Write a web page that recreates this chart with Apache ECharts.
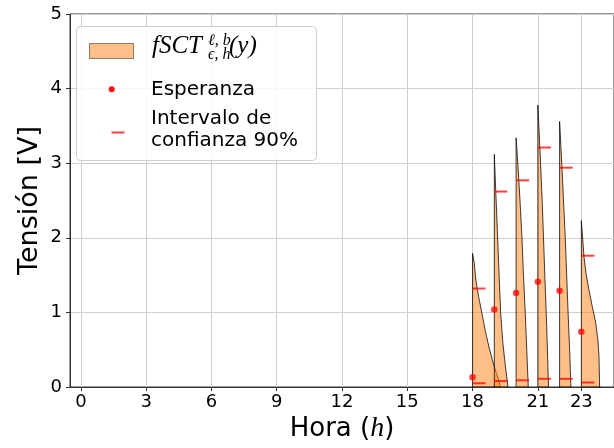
<!DOCTYPE html>
<html>
<head>
<meta charset="utf-8">
<script src="https://cdn.jsdelivr.net/npm/echarts@6/dist/echarts.min.js"></script>
<style>
html,body{margin:0;padding:0;background:#fff;}
#c{width:614px;height:448px;}
</style>
</head>
<body>
<div id="c"></div>
<script>
// ---- data ----
const hours = [18, 19, 20, 21, 22, 23];
const means = [0.13, 1.04, 1.26, 1.41, 1.29, 0.74];
const ciLow = [0.05, 0.08, 0.09, 0.11, 0.11, 0.06];
const ciHigh = [1.32, 2.62, 2.77, 3.21, 2.94, 1.76];
const xTickLabels = [0, 3, 6, 9, 12, 15, 18, 21, 23];
const yTickLabels = [0, 1, 2, 3, 4, 5];
// half-violin profiles: [tension, half width in hours]
const profile18 = [[1.79,0],[1.66,0.08],[1.43,0.15],[1.21,0.28],[0.99,0.43],[0.76,0.58],[0.54,0.75],[0.32,0.95],[0.18,1.10],[0.09,1.21],[0,1.28]];
const profile19 = [[3.12,0],[2.6,0.07],[2.1,0.14],[1.5,0.22],[1.0,0.29],[0.6,0.39],[0.3,0.5],[0,0.63]];
const profile20 = [[3.34,0],[3.0,0.08],[2.5,0.18],[2.0,0.27],[1.5,0.34],[1.0,0.42],[0.5,0.49],[0,0.56]];
const profile21 = [[3.78,0],[3.3,0.08],[2.5,0.2],[1.5,0.32],[0.8,0.41],[0.3,0.46],[0,0.49]];
const profile22 = [[3.56,0],[3.0,0.1],[2.0,0.26],[1.0,0.39],[0.5,0.46],[0,0.52]];
const profile23 = [[2.23,0],[1.75,0.12],[1.53,0.21],[1.30,0.35],[1.08,0.5],[0.86,0.66],[0.63,0.76],[0.41,0.81],[0,0.84]];
const profiles = [profile18, profile19, profile20, profile21, profile22, profile23];

// ---- styles ----
const CI_LEN = 0.6;
const violinFill = 'rgba(255,127,14,0.5)';
const violinEdge = 'rgba(0,0,0,0.75)';
const redCI = 'rgba(255,0,0,0.75)';
const sans = 'DejaVu Sans';
const serif = 'Liberation Serif, DejaVu Serif, serif';

const chart = echarts.init(document.getElementById('c'), null, {renderer: 'canvas'});

const violinSeries = {
  type: 'custom',
  name: 'violin',
  clip: true,
  z: 2,
  data: hours.map((h, i) => [h, i]),
  renderItem: function (params, api) {
    const h = api.value(0);
    const prof = profiles[api.value(1)];
    const pts = [api.coord([h, 0])];
    prof.forEach(p => pts.push(api.coord([h + p[1], p[0]])));
    pts.push(api.coord([h, 0]));
    return {
      type: 'polygon',
      shape: {points: pts},
      style: {fill: violinFill, stroke: violinEdge, lineWidth: 1}
    };
  }
};

const ciData = [];
hours.forEach((h, i) => { ciData.push([h, ciLow[i]]); ciData.push([h, ciHigh[i]]); });
const ciSeries = {
  type: 'custom',
  name: 'ci',
  clip: true,
  z: 3,
  data: ciData,
  renderItem: function (params, api) {
    const a = api.coord([api.value(0), api.value(1)]);
    const b = api.coord([api.value(0) + CI_LEN, api.value(1)]);
    return {
      type: 'line',
      shape: {x1: a[0], y1: a[1], x2: b[0], y2: b[1]},
      style: {stroke: redCI, lineWidth: 2}
    };
  }
};

const meanSeries = {
  type: 'scatter',
  name: 'Esperanza',
  z: 4,
  symbolSize: 6.5,
  itemStyle: {color: 'rgba(255,0,0,0.95)'},
  data: hours.map((h, i) => [h, means[i]])
};

// ---- legend drawn as graphic ----
const LZ = 100;
const legendItems = [
  {type: 'rect', z: LZ, shape: {x: 76.5, y: 26.5, width: 240, height: 134, r: 4},
   style: {fill: 'rgba(255,255,255,0.85)', stroke: '#cccccc', lineWidth: 1}},
  {type: 'rect', z: LZ + 1, shape: {x: 89.5, y: 43.5, width: 44, height: 15},
   style: {fill: violinFill, stroke: 'rgba(0,0,0,0.45)', lineWidth: 1}},
  {type: 'text', z: LZ + 1, x: 152, y: 46, style: {text: 'fSCT', font: 'italic 25px ' + serif, fill: '#000', verticalAlign: 'middle', align: 'left'}},
  {type: 'text', z: LZ + 1, x: 208, y: 41, style: {text: 'ℓ, b', font: 'italic 16px ' + serif, fill: '#000', verticalAlign: 'middle', align: 'left'}},
  {type: 'text', z: LZ + 1, x: 208, y: 55, style: {text: 'ϵ, h', font: 'italic 16px ' + serif, fill: '#000', verticalAlign: 'middle', align: 'left'}},
  {type: 'text', z: LZ + 1, x: 229, y: 46, style: {text: '(y)', font: 'italic 25px ' + serif, fill: '#000', verticalAlign: 'middle', align: 'left'}},
  {type: 'circle', z: LZ + 1, shape: {cx: 111.7, cy: 89.3, r: 3}, style: {fill: 'rgba(255,0,0,0.95)'}},
  {type: 'text', z: LZ + 1, x: 151, y: 89.5, style: {text: 'Esperanza', font: '20px ' + sans, fill: '#000', verticalAlign: 'middle', align: 'left'}},
  {type: 'line', z: LZ + 1, shape: {x1: 111.5, y1: 132.5, x2: 124.5, y2: 132.5}, style: {stroke: redCI, lineWidth: 2}},
  {type: 'text', z: LZ + 1, x: 151, y: 119, style: {text: 'Intervalo de', font: '20px ' + sans, fill: '#000', verticalAlign: 'middle', align: 'left'}},
  {type: 'text', z: LZ + 1, x: 151, y: 141, style: {text: 'confianza 90%', font: '20px ' + sans, fill: '#000', verticalAlign: 'middle', align: 'left'}}
];

const option = {
  animation: false,
  backgroundColor: '#ffffff',
  grid: {left: 70, top: 14, right: -3, bottom: 61, show: true, borderColor: '#333333', borderWidth: 1, containLabel: false},
  xAxis: {
    type: 'value', min: -0.5, max: 24.5,
    name: '{a|Hora (}{b|h}{a|)}',
    nameLocation: 'middle', nameGap: 28, nameMoveOverlap: false,
    nameTextStyle: {rich: {
      a: {fontFamily: sans, fontSize: 26, color: '#000'},
      b: {fontFamily: serif, fontStyle: 'italic', fontSize: 28, color: '#000'}
    }},
    axisLine: {show: true, onZero: false, lineStyle: {color: '#333333', width: 1}},
    axisTick: {show: true, length: 4, customValues: xTickLabels, lineStyle: {color: '#333333'}},
    axisLabel: {customValues: xTickLabels, fontFamily: sans, fontSize: 18, color: '#000', margin: 6},
    splitLine: {show: true, lineStyle: {color: '#cfcfcf', width: 1}}
  },
  yAxis: {
    type: 'value', min: 0, max: 5, interval: 1,
    name: 'Tensión [V]',
    nameLocation: 'middle', nameGap: 27, nameMoveOverlap: false,
    nameTextStyle: {fontFamily: sans, fontSize: 27, color: '#000'},
    axisLine: {show: true, onZero: false, lineStyle: {color: '#333333', width: 1}},
    axisTick: {show: true, length: 4, lineStyle: {color: '#333333'}},
    axisLabel: {fontFamily: sans, fontSize: 18, color: '#000', margin: 8,
      formatter: v => (yTickLabels.indexOf(v) >= 0 ? String(v) : '')},
    splitLine: {show: true, lineStyle: {color: '#cfcfcf', width: 1}}
  },
  series: [violinSeries, ciSeries, meanSeries],
  graphic: legendItems
};
chart.setOption(option);
</script>
</body>
</html>
